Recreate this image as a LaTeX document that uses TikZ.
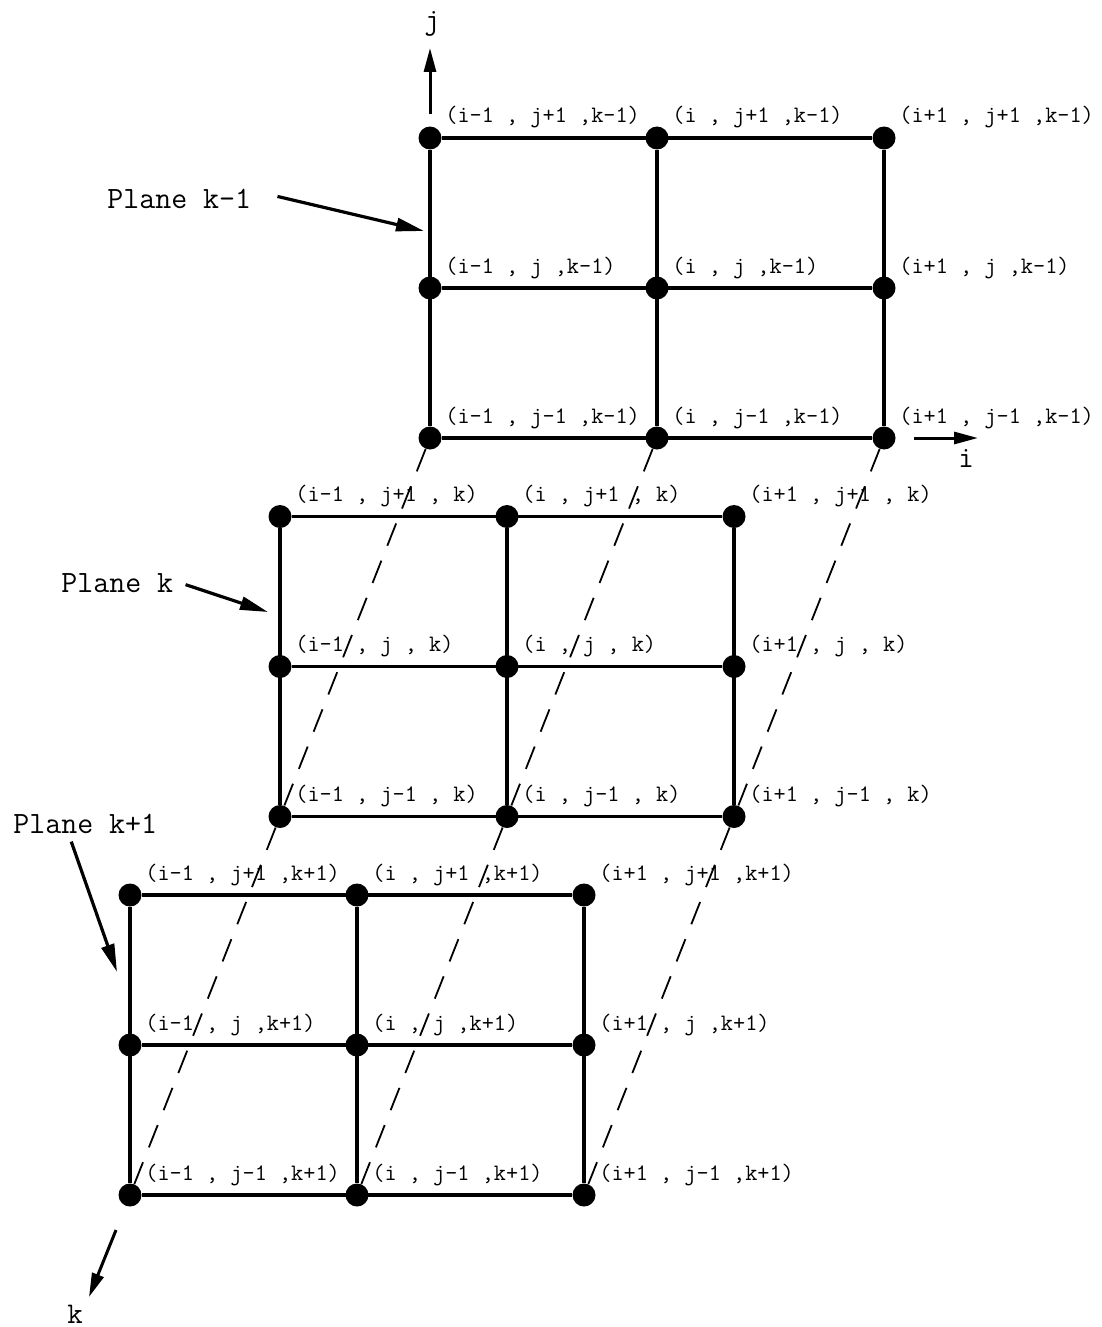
\documentclass[tikz,border=0pt]{standalone}
\usepackage{tikz}
\usetikzlibrary{arrows.meta,positioning}
\definecolor{inkBlack}{RGB}{0,0,0}
\tikzset{
  gridpt/.style={circle, fill=inkBlack, inner sep=0pt, minimum size=11.5pt},
  gridline/.style={draw=inkBlack, line width=1.8pt},
  linkline/.style={draw=inkBlack, line width=0.9pt, dash pattern=on 12pt off 8pt},
  axisarrow/.style={draw=inkBlack, line width=1.5pt, -{Triangle[length=12pt,width=6pt]}},
  planearrow/.style={draw=inkBlack, line width=1.6pt, -{Triangle[length=14pt,width=6.5pt]}},
  ptlabel/.style={anchor=base west, inner sep=0pt, font=\fontsize{11.8}{13}\selectfont\ttfamily},
  planelabel/.style={anchor=base west, inner sep=0pt, font=\fontsize{15.5}{17}\selectfont\ttfamily},
  axislabel/.style={inner sep=0pt, font=\fontsize{15}{16}\selectfont\ttfamily}
}
\newcommand{\triple}[3]{(#1 , #2 ,#3)}

\begin{document}
\begin{tikzpicture}[x=0.5pt,y=-0.5pt]
\useasboundingbox (0,0) rectangle (1102,1327);

\foreach \p/\kk in {0/k-1,1/{\ k},2/k+1} {
  \foreach \a/\ii in {0/i-1,1/i,2/i+1} {
    \foreach \r/\jj in {0/j+1,1/j,2/j-1} {
      \node[gridpt] (n\p\a\r) at ({430-150*\p+227*\a},{138+378.5*\p+150*\r}) {};
      \node[ptlabel] (l\p\a\r) at ([shift={(7.5pt,7.5pt)}]n\p\a\r.center) {\triple{\ii}{\jj}{\kk}};
    }
  }
  \draw[gridline] (n\p00) -- (n\p20) -- (n\p22) -- (n\p02) -- (n\p00);
  \draw[gridline] (n\p01) -- (n\p21);
  \draw[gridline] (n\p10) -- (n\p12);
}

\foreach \a in {0,1,2}
  \draw[linkline] (n0\a2) -- (n1\a2) -- (n2\a2);

\coordinate (jtip) at (430,48);
\coordinate (itip) at (978,438);
\coordinate (ktail) at (116,1230);
\coordinate (ktip) at (89,1297);
\node[axislabel] (jlab) at (432,24) {j};
\node[axislabel] (ilab) at (966,458) {i};
\node[axislabel] (klab) at (75,1314) {k};
\draw[axisarrow] ([yshift=6pt]n000.north) -- (jtip);
\draw[axisarrow] ([xshift=9pt]n022.east) -- (itip);
\draw[axisarrow] (ktail) -- (ktip);

\node[planelabel] (pl0) at (107,208) {Plane k-1};
\node[planelabel] (pl1) at (61,592) {Plane k};
\node[planelabel] (pl2) at (13,833) {Plane k+1};
\coordinate (pa0) at (424,231);
\coordinate (pa1) at (268,612);
\coordinate (pa2) at (117,972);
\draw[planearrow] ([xshift=13pt,yshift=1pt]pl0.east) -- (pa0);
\draw[planearrow] ([xshift=6pt,yshift=-1pt]pl1.east) -- (pa1);
\draw[planearrow] ([xshift=-7pt,yshift=-4pt]pl2.south) -- (pa2);
\end{tikzpicture}
\end{document}
